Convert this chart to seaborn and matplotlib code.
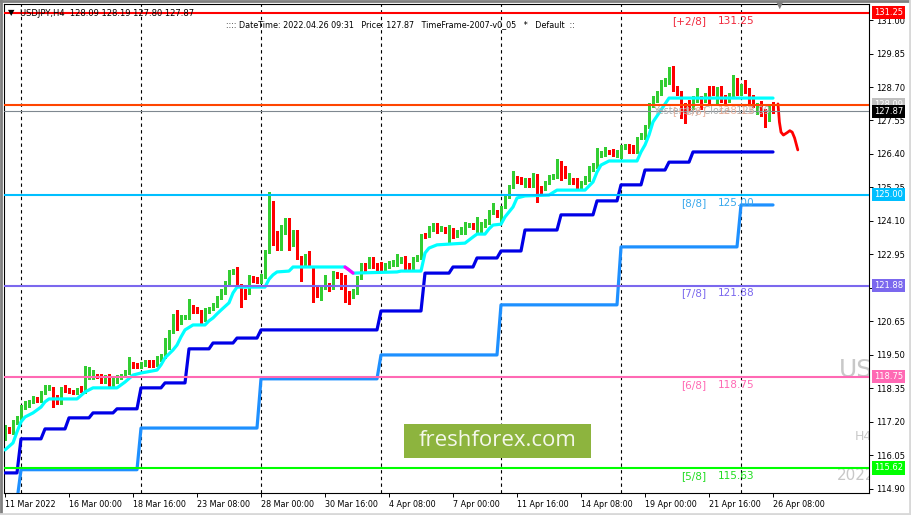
import seaborn as sns
import matplotlib.pyplot as plt
import matplotlib.transforms as mtransforms
from matplotlib.patches import Rectangle
from matplotlib.lines import Line2D

W, H = 911, 515

# ---- candles (H4 bars, bar index 2 = 11 Mar 08:00) ----
first_bar = 2
opens = [116.65, 116.96, 116.86, 117.17, 117.34, 117.71, 117.75, 117.89, 118.00, 117.92,
         118.20, 118.36, 118.33, 118.06, 117.85, 118.37, 118.30, 118.26, 118.20, 118.37,
         118.23, 118.71, 118.71, 118.81, 118.81, 118.57, 118.78, 118.47, 118.57, 118.71,
         118.78, 118.88, 119.19, 119.16, 119.09, 119.16, 119.26, 119.26, 119.16, 119.33,
         119.43, 119.77, 120.29, 120.84, 120.60, 120.78, 120.80, 121.15, 121.08, 121.01,
         120.70, 120.98, 121.08, 121.18, 121.46, 121.63, 121.97, 122.31, 122.38, 121.90,
         121.73, 121.63, 122.14, 122.11, 122.01, 122.18, 123.04, 124.72, 123.69, 123.38,
         123.72, 124.14, 123.31, 123.72, 122.83, 122.66, 122.86, 122.49, 121.83, 121.59,
         121.83, 121.90, 121.83, 122.31, 122.25, 122.18, 121.63, 121.52, 121.63, 122.14,
         122.59, 122.52, 122.80, 122.59, 122.59, 122.42, 122.56, 122.59, 122.59, 122.74,
         122.83, 122.59, 122.49, 122.76, 122.83, 123.62, 123.59, 123.79, 123.89, 123.79,
         123.82, 123.72, 123.79, 123.59, 123.69, 123.69, 123.94, 123.96, 123.72, 123.72,
         123.93, 124.03, 124.38, 124.41, 124.07, 124.58, 124.92, 125.27, 125.58, 125.54,
         125.34, 125.51, 125.34, 125.64, 125.23, 125.23, 125.40, 125.58, 125.61, 126.09,
         125.92, 125.44, 125.51, 125.51, 125.23, 125.40, 125.51, 125.85, 125.98, 126.33,
         126.37, 126.47, 126.50, 126.33, 126.37, 126.61, 126.70, 126.65, 126.50, 126.95,
         126.98, 127.33, 128.08, 128.25, 128.49, 128.77, 128.87, 129.35, 128.70, 128.49,
         128.08, 128.19, 128.01, 128.25, 128.32, 128.25, 128.67, 128.67, 128.19, 128.67,
         128.36, 128.25, 128.36, 128.94, 128.49, 128.77, 128.60, 128.36, 127.81, 128.15,
         127.91, 127.57, 128.09]
closes = [117.03, 116.90, 117.20, 117.34, 117.71, 117.85, 117.89, 118.02, 117.95, 118.20,
          118.40, 118.38, 118.02, 117.85, 118.33, 118.26, 118.26, 118.20, 118.33, 118.26,
          118.71, 118.76, 118.81, 118.74, 118.57, 118.74, 118.44, 118.64, 118.74, 118.78,
          118.92, 119.23, 119.09, 119.09, 119.19, 119.26, 119.12, 119.12, 119.40, 119.46,
          119.84, 120.29, 120.84, 120.53, 120.80, 120.81, 121.18, 120.98, 120.98, 120.72,
          121.04, 121.11, 121.22, 121.46, 121.70, 121.97, 122.31, 122.38, 121.90, 121.63,
          121.63, 122.14, 122.04, 122.01, 122.21, 123.04, 124.72, 123.34, 123.34, 123.89,
          124.14, 123.34, 123.72, 122.83, 122.66, 122.90, 122.66, 121.83, 121.56, 121.83,
          121.97, 121.83, 122.31, 122.18, 121.83, 121.56, 121.52, 121.70, 122.14, 122.59,
          122.42, 122.83, 122.52, 122.45, 122.42, 122.59, 122.66, 122.66, 122.76, 122.77,
          122.49, 122.49, 122.83, 122.86, 123.59, 123.55, 123.86, 123.89, 123.72, 123.86,
          123.72, 123.89, 123.55, 123.72, 123.82, 123.99, 123.97, 123.86, 123.93, 123.99,
          124.10, 124.41, 124.41, 124.27, 124.55, 124.92, 125.27, 125.58, 125.44, 125.40,
          125.51, 125.34, 125.68, 125.06, 125.10, 125.40, 125.61, 125.64, 126.09, 125.58,
          125.61, 125.68, 125.40, 125.23, 125.40, 125.58, 125.92, 126.02, 126.37, 126.44,
          126.54, 126.44, 126.37, 126.47, 126.61, 126.70, 126.47, 126.47, 126.95, 127.05,
          127.33, 128.08, 128.32, 128.49, 128.87, 128.94, 129.35, 128.60, 128.49, 127.98,
          127.98, 127.91, 128.32, 128.56, 127.98, 128.43, 128.19, 128.49, 128.64, 128.25,
          128.19, 128.43, 128.94, 128.49, 128.77, 128.53, 128.19, 128.08, 128.08, 127.74,
          127.67, 127.98, 127.87]
highs = [117.10, 117.03, 117.27, 117.40, 117.78, 117.92, 117.96, 118.09, 118.06, 118.27,
         118.47, 118.46, 118.40, 118.12, 118.40, 118.47, 118.35, 118.30, 118.38, 118.42,
         119.12, 119.09, 118.99, 118.86, 118.86, 118.80, 118.83, 118.70, 118.80, 118.84,
         118.98, 119.43, 119.25, 119.22, 119.25, 119.32, 119.32, 119.32, 119.46, 119.52,
         120.08, 120.35, 120.90, 121.04, 120.86, 120.87, 121.42, 121.21, 121.14, 121.06,
         121.10, 121.16, 121.28, 121.52, 121.76, 122.03, 122.42, 122.44, 122.52, 121.95,
         121.78, 122.24, 122.20, 122.16, 122.28, 123.10, 125.10, 124.80, 123.75, 123.95,
         124.20, 124.20, 123.80, 123.80, 122.90, 122.96, 123.07, 122.55, 121.90, 121.90,
         122.25, 121.96, 122.38, 122.36, 122.30, 122.24, 121.68, 121.76, 122.20, 122.65,
         122.65, 122.88, 122.86, 122.64, 122.70, 122.64, 122.72, 122.75, 122.95, 122.88,
         122.90, 122.64, 122.88, 122.92, 123.65, 123.68, 123.92, 124.03, 124.03, 123.92,
         123.88, 123.95, 123.85, 123.78, 123.88, 124.05, 124.03, 124.02, 124.24, 124.05,
         124.16, 124.47, 124.72, 124.47, 124.60, 124.98, 125.33, 125.81, 125.64, 125.60,
         125.58, 125.58, 125.75, 125.70, 125.30, 125.46, 125.67, 125.70, 126.23, 126.15,
         125.98, 125.74, 125.56, 125.56, 125.46, 125.64, 125.98, 126.08, 126.61, 126.50,
         126.65, 126.52, 126.56, 126.53, 126.70, 126.76, 126.76, 126.70, 127.00, 127.12,
         127.40, 128.15, 128.38, 128.55, 128.93, 129.00, 129.40, 129.42, 128.75, 128.55,
         128.14, 128.25, 128.38, 128.67, 128.38, 128.50, 128.73, 128.73, 128.70, 128.73,
         128.42, 128.49, 129.11, 129.00, 128.82, 128.94, 128.66, 128.42, 128.14, 128.22,
         127.96, 128.04, 128.19]
lows = [116.58, 116.83, 116.80, 117.12, 117.28, 117.66, 117.70, 117.84, 117.90, 117.88,
        118.15, 118.30, 117.71, 117.80, 117.80, 118.22, 118.20, 118.15, 118.15, 118.22,
        118.18, 118.66, 118.66, 118.70, 118.52, 118.52, 118.40, 118.42, 118.52, 118.67,
        118.74, 118.84, 119.05, 119.04, 119.04, 119.12, 119.08, 119.08, 119.12, 119.30,
        119.40, 119.72, 120.25, 120.36, 120.55, 120.74, 120.75, 120.94, 120.94, 120.60,
        120.66, 120.94, 121.04, 121.14, 121.42, 121.59, 121.93, 122.27, 121.86, 121.15,
        121.42, 121.58, 122.00, 121.96, 121.96, 122.14, 123.00, 123.28, 123.10, 123.10,
        123.65, 123.10, 123.25, 122.78, 122.03, 122.60, 122.60, 121.32, 121.50, 121.40,
        121.78, 121.70, 121.78, 122.14, 121.78, 121.32, 121.25, 121.46, 121.58, 122.10,
        122.35, 122.47, 122.47, 122.40, 122.37, 122.35, 122.50, 122.54, 122.54, 122.66,
        122.40, 122.44, 122.44, 122.72, 122.78, 123.50, 123.54, 123.75, 123.68, 123.75,
        123.68, 123.38, 123.50, 123.54, 123.64, 123.64, 123.90, 123.82, 123.68, 123.68,
        123.88, 123.98, 124.33, 124.22, 124.02, 124.53, 124.88, 125.22, 125.40, 125.36,
        125.28, 125.28, 125.28, 124.75, 125.04, 125.18, 125.36, 125.54, 125.56, 125.52,
        125.56, 125.38, 125.36, 125.18, 125.18, 125.36, 125.46, 125.80, 125.93, 126.28,
        126.32, 126.39, 126.32, 126.28, 126.26, 126.56, 126.42, 126.42, 126.45, 126.90,
        126.93, 127.28, 128.02, 128.20, 128.44, 128.72, 128.82, 128.55, 128.44, 127.64,
        127.46, 127.86, 127.96, 128.20, 127.93, 128.20, 128.14, 128.44, 128.14, 128.20,
        128.14, 128.20, 128.31, 128.44, 128.44, 128.48, 128.14, 128.03, 127.76, 127.69,
        127.33, 127.52, 127.80]

# ---- indicator lines (vertices: bar index, price) ----
cyan_x = [2, 4, 5, 6, 7, 9, 10, 11, 12, 13, 20, 22, 24, 30, 32, 34, 36, 40, 41, 42,
          44, 45, 46, 47, 49, 52, 53, 54, 55, 56, 58, 59, 60, 67, 68, 69, 70, 73, 74, 87,
          88, 89, 100, 101, 106, 107, 108, 110, 117, 119, 120, 122, 123, 124, 126, 127, 129, 130,
          132, 138, 140, 147, 149, 150, 151, 153, 160, 161, 162, 163, 164, 166, 168, 194]
cyan_y = [116.24, 116.48, 116.86, 117.20, 117.37, 117.51, 117.61, 117.71, 117.89, 117.99,
          117.99, 118.23, 118.37, 118.37, 118.57, 118.81, 118.88, 118.98, 119.16, 119.40,
          119.67, 119.84, 120.12, 120.36, 120.53, 120.53, 120.67, 120.77, 120.91, 121.04,
          121.29, 121.63, 121.83, 121.83, 122.10, 122.25, 122.35, 122.38, 122.52, 122.52,
          122.42, 122.31, 122.35, 122.38, 122.38, 123.00, 123.17, 123.28, 123.34, 123.55,
          123.65, 123.65, 123.83, 123.96, 123.99, 124.24, 124.58, 124.89, 124.96, 124.99,
          125.16, 125.16, 125.44, 125.78, 126.02, 126.16, 126.16, 126.47, 126.71, 127.05,
          127.50, 127.91, 128.32, 128.32]
magenta_x = [87, 88, 89]
magenta_y = [122.52, 122.42, 122.31]

blue_x = [2, 5, 6, 11, 12, 17, 18, 23, 24, 29, 30, 35, 36, 41, 42, 47, 48, 53, 54, 59,
          60, 65, 66, 95, 96, 106, 107, 113, 114, 119, 120, 125, 126, 131, 132, 140, 141, 149,
          150, 155, 156, 161, 162, 167, 168, 173, 174, 194]
blue_y = [115.45, 115.45, 116.62, 116.62, 116.96, 116.96, 117.34, 117.34, 117.51, 117.51,
          117.65, 117.65, 118.37, 118.37, 118.54, 118.54, 119.71, 119.71, 119.91, 119.91,
          120.08, 120.08, 120.36, 120.36, 121.01, 121.01, 122.31, 122.31, 122.52, 122.52,
          122.83, 122.83, 123.07, 123.07, 123.79, 123.79, 124.31, 124.31, 124.79, 124.79,
          125.34, 125.34, 125.85, 125.85, 126.12, 126.12, 126.47, 126.47]

dodger_x = [2, 5, 6, 35, 36, 65, 66, 95, 96, 125, 126, 155, 156, 185, 186, 194]
dodger_y = [114.50, 114.50, 115.56, 115.56, 116.99, 116.99, 118.68, 118.68, 119.50, 119.50,
            121.22, 121.22, 123.21, 123.21, 124.65, 124.65]

proj_x = [195.25, 195.6, 196.0, 196.6, 197.5, 198.2, 198.8, 199.4, 200.2]
proj_y = [128.12, 127.50, 127.15, 127.05, 127.13, 127.20, 127.15, 126.95, 126.54]

# ---- horizontal levels ----
levels = [131.25, 128.09, 127.87, 125.00, 121.88, 118.75, 115.62]
level_colors = ['#FF0000', '#FF4500', '#7F8890', '#00BFFF', '#7B68EE', '#FF69B4', '#00FF00']
box_colors = ['#FF0000', '#C0C0C0', '#000000', '#00BFFF', '#7B68EE', '#FF69B4', '#00FF00']

murrey_tags = ['[+2/8]', '[8/8]', '[7/8]', '[6/8]', '[5/8]']
murrey_levels = [131.25, 125.00, 121.88, 118.75, 115.62]
murrey_texts = ['131.25', '125.00', '121.88', '118.75', '115.63']
murrey_colors = ['#F0283C', '#3AA8EC', '#7B68EE', '#FF69B4', '#22DD22']

price_ticks = [114.90, 116.05, 117.20, 118.35, 119.50, 120.65, 121.80, 122.95,
               124.10, 125.25, 126.40, 127.55, 128.70, 129.85, 131.00]
time_ticks = [2, 18, 34, 50, 66, 82, 98, 114, 130, 146, 162, 178, 194]
time_labels = ['11 Mar 2022', '16 Mar 00:00', '18 Mar 16:00', '23 Mar 08:00',
               '28 Mar 00:00', '30 Mar 16:00', '4 Apr 08:00', '7 Apr 00:00',
               '11 Apr 16:00', '14 Apr 08:00', '19 Apr 00:00', '21 Apr 16:00',
               '26 Apr 08:00']
week_starts = [6, 36, 66, 96, 126, 156, 186]

sns.set_style("white")
plt.rcParams['font.family'] = ['DejaVu Sans']


def fx(x):
    return x / W


def fy(y):
    return 1 - y / H


fig = plt.figure(figsize=(W / 100, H / 100), dpi=100)
fig.patch.set_facecolor('white')
ax = fig.add_axes([4 / W, 1 - 493 / H, 865 / W, 489 / H])
ax.set_facecolor('white')
ax.set_xlim(1.75, 218)
ax.set_ylim(114.76, 131.55)

# weekly dashed grid
for w in week_starts:
    ax.axvline(w, color='black', lw=0.8, ls=(0, (3, 3)), zorder=0.5)

# candles
xs = list(range(first_bar, first_bar + len(closes)))
cols = ['#32CD32' if c >= o else '#FF0000' for o, c in zip(opens, closes)]
ax.vlines(xs, lows, highs, colors=cols, lw=0.9, zorder=2, antialiased=False)
bottoms = [min(o, c) for o, c in zip(opens, closes)]
heights = [max(abs(c - o), 0.035) for o, c in zip(opens, closes)]
ax.bar(xs, heights, bottom=bottoms, width=0.64, color=cols, lw=0, zorder=2.1,
       antialiased=False)

# indicator lines
sns.lineplot(x=dodger_x, y=dodger_y, ax=ax, color='#1E90FF', lw=2.3,
             estimator=None, sort=False, zorder=3)
sns.lineplot(x=blue_x, y=blue_y, ax=ax, color='#0000E6', lw=2.3,
             estimator=None, sort=False, zorder=3)
sns.lineplot(x=cyan_x, y=cyan_y, ax=ax, color='#00FFFF', lw=2.3,
             estimator=None, sort=False, zorder=3.1)
sns.lineplot(x=magenta_x, y=magenta_y, ax=ax, color='#FF00FF', lw=2.3,
             estimator=None, sort=False, zorder=3.2)
sns.lineplot(x=proj_x, y=proj_y, ax=ax, color='#FF0000', lw=2.0,
             estimator=None, sort=False, zorder=3.2)

# levels
for lv, c in zip(levels, level_colors):
    ax.axhline(lv, color=c, lw=0.8 if lv == 127.87 else 1.5, zorder=4)

for tag, lv, txt, c in zip(murrey_tags, murrey_levels, murrey_texts, murrey_colors):
    ax.text(177.3, lv - 0.27, tag, ha='right', va='center', color=c, fontsize=7.6, zorder=5)
    ax.text(180.3, lv - 0.27, txt, ha='left', va='center', color=c, fontsize=7.6, zorder=5)

ax.text(164.0, 127.87, 'Yesterday Close  128.09', ha='left', va='center',
        color='#B0B0B0', fontsize=7.0, zorder=5)
ax.text(177.3, 127.87, '[+1/8]', ha='right', va='center', color='#E8A890',
        fontsize=7.6, alpha=0.85, zorder=5)
ax.text(180.3, 127.87, '128.13', ha='left', va='center', color='#E8A890',
        fontsize=7.6, alpha=0.85, zorder=5)

# price boxes on the right scale
trans = mtransforms.blended_transform_factory(ax.transAxes, ax.transData)
for lv, bc in zip(levels, box_colors):
    ax.text(1.0058, lv, f'{lv:.2f}', transform=trans, ha='left', va='center',
            color='white', fontsize=6, clip_on=False, zorder=6,
            bbox=dict(boxstyle='square,pad=0.25', fc=bc, ec='none'))

# watermark, clipped by the chart window
ax.text((839 - 4) / 865, (493 - 370) / 489, 'USDJPY', transform=ax.transAxes,
        fontsize=18, color='#C8C8C8', ha='left', va='center', clip_on=True, zorder=1)
ax.text((855 - 4) / 865, (493 - 437) / 489, 'H4', transform=ax.transAxes,
        fontsize=9, color='#C8C8C8', ha='left', va='center', clip_on=True, zorder=1)
ax.text((837 - 4) / 865, (493 - 475) / 489, '2022.04.26', transform=ax.transAxes,
        fontsize=11, color='#C8C8C8', ha='left', va='center', clip_on=True, zorder=1)

# axes styling
ax.yaxis.tick_right()
ax.set_yticks(price_ticks)
ax.set_yticklabels([f'{t:.2f}' for t in price_ticks])
ax.set_xticks(time_ticks)
ax.set_xticklabels(time_labels)
for lbl in ax.get_xticklabels():
    lbl.set_ha('left')
ax.tick_params(axis='y', direction='out', length=3, width=0.7, labelsize=6, pad=2,
               colors='black', right=True, left=False)
ax.tick_params(axis='x', direction='out', length=3, width=0.7, labelsize=5.8, pad=2,
               colors='black', bottom=True)
ax.set_xlabel('')
ax.set_ylabel('')
for sp in ax.spines.values():
    sp.set_color('black')
    sp.set_linewidth(0.8)

# header texts
fig.text(fx(8), fy(13), '\u25BC', fontsize=6, color='black', ha='left', va='center')
fig.text(fx(20), fy(13), 'USDJPY,H4  128.09 128.19 127.80 127.87', fontsize=6,
         color='black', ha='left', va='center')
fig.text(fx(226), fy(25), ':::: DateTime: 2022.04.26 09:31   Price: 127.87   '
         'TimeFrame-2007-v0_05   *   Default  ::', fontsize=5.8, color='black',
         ha='left', va='center')
fig.text(fx(780), fy(5), '\u25BC', fontsize=7, color='#808080', ha='center', va='center')

# freshforex badge
fig.add_artist(Rectangle((fx(404), fy(458)), 187 / W, 34 / H, transform=fig.transFigure,
                         fc='#8DB43E', ec='none', zorder=7))
fig.text(fx(497.5), fy(441), 'freshforex.com', fontsize=16, family='Open Sans',
         color='#F4F7EA', ha='center', va='center', zorder=8)

# window frame
fig.add_artist(Line2D([0.001, 0.001], [0, 1], transform=fig.transFigure, color='#808080', lw=2))
fig.add_artist(Line2D([0, 1], [0.999, 0.999], transform=fig.transFigure, color='#808080', lw=2))
fig.add_artist(Line2D([0.999, 0.999], [0, 1], transform=fig.transFigure, color='#D8D8D8', lw=2))
fig.add_artist(Line2D([0, 1], [0.001, 0.001], transform=fig.transFigure, color='#D8D8D8', lw=2))

fig.savefig('out.png', dpi=100)
